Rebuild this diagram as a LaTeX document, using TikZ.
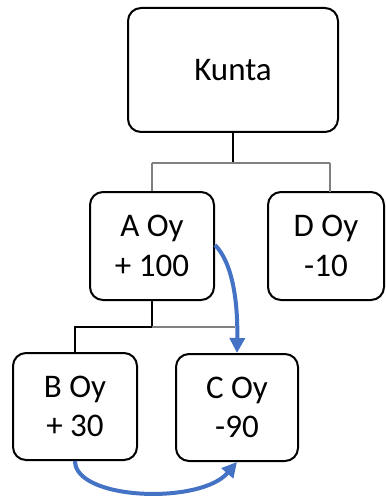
\documentclass[tikz,border=0pt]{standalone}
\usepackage{fontspec}
\setmainfont{Carlito}
\usetikzlibrary{arrows.meta,calc}
\definecolor{blu}{HTML}{4472C4}
\definecolor{cgray}{HTML}{808080}
\begin{document}
\begin{tikzpicture}[x=1pt,y=-1pt,
  box/.style={draw=black,line width=2pt,rounded corners=13pt,align=center,
    font=\fontsize{33}{39.5}\selectfont,inner sep=0pt},
  conn/.style={line width=1.2pt},
  flow/.style={draw=blu,line width=4pt,-{Triangle[length=15pt,width=15pt]}}]
\useasboundingbox (0,0) rectangle (385,497);
\node[box,minimum width=210pt,minimum height=124pt] (K) at (233,70) {Kunta};
\node[box,minimum width=124pt,minimum height=108pt] (A) at (152,246) {A Oy\\+ 100};
\node[box,minimum width=116pt,minimum height=108pt] (D) at (326,246) {D Oy\\-10};
\node[box,minimum width=124pt,minimum height=107pt] (B) at (75,406.5) {B Oy\\+ 30};
\node[box,minimum width=122pt,minimum height=107pt] (C) at (237,407.5) {C Oy\\-90};
% upper connector
\coordinate (j1) at (K.south |- 0,163);
\coordinate (dtop) at (330,192);
\draw[conn,black] (K.south) -- (j1);
\draw[conn,cgray] (A.north |- j1) -- (dtop |- j1);
\draw[conn,cgray] (A.north |- j1) -- (A.north);
\draw[conn,cgray] (dtop |- j1) -- (dtop);
% lower connector
\coordinate (j2) at (A.south |- 0,327);
\coordinate (cend) at (235,327);
\draw[conn,black] (A.south) -- (j2) -| (B.north);
\draw[conn,cgray] (j2) -- (cend);
% flows
\draw[flow] (215,245) .. controls (232,262) and (238,300) .. (C.north);
\draw[flow] (B.south) .. controls (75,500) and (200,505) .. (C.south);
\end{tikzpicture}
\end{document}
